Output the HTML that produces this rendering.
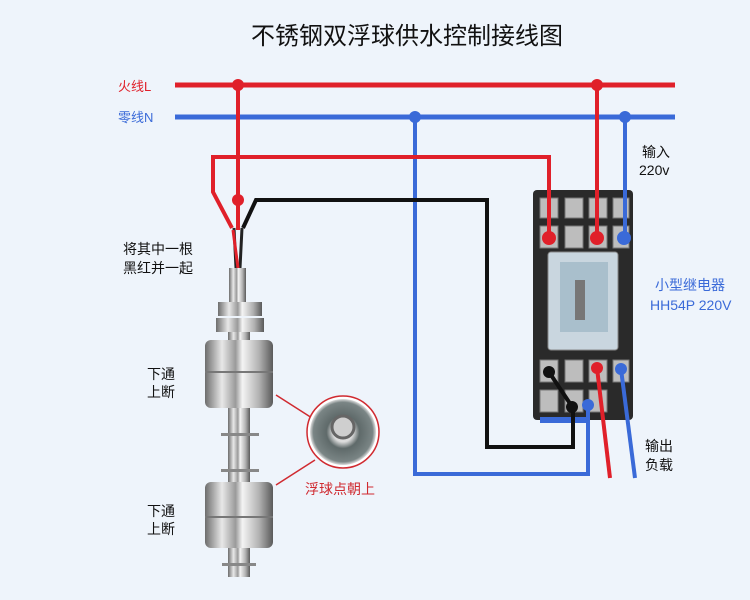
<!DOCTYPE html>
<html><head><meta charset="utf-8"><style>
body{margin:0;background:#eef4fb;}
svg{display:block;font-family:"Liberation Sans","Noto Sans CJK SC",sans-serif;}
</style></head><body>
<svg width="750" height="600" viewBox="0 0 750 600" xmlns="http://www.w3.org/2000/svg">
<defs>
<linearGradient id="steel" x1="0" x2="1" y1="0" y2="0">
<stop offset="0" stop-color="#6d6d6d"/><stop offset="0.25" stop-color="#e8e8e8"/><stop offset="0.45" stop-color="#9a9a9a"/><stop offset="0.55" stop-color="#f4f4f4"/><stop offset="0.8" stop-color="#b0b0b0"/><stop offset="1" stop-color="#5a5a5a"/>
</linearGradient>
<radialGradient id="disc"><stop offset="0.3" stop-color="#dcdcdc"/><stop offset="0.5" stop-color="#5f6a6a"/><stop offset="0.9" stop-color="#7a8585"/><stop offset="1" stop-color="#ddd"/></radialGradient>
</defs>
<rect width="750" height="600" fill="#eef4fb"/>
<text x="407" y="44" font-size="24" text-anchor="middle" fill="#111">不锈钢双浮球供水控制接线图</text>
<text x="118" y="91" font-size="13" fill="#e0202a">火线L</text>
<text x="118" y="122" font-size="13" fill="#3a6ad8">零线N</text>

<rect x="533" y="190" width="100" height="230" rx="4" fill="#2a2a2a"/>
<g fill="#bdbdbd" stroke="#777">
<rect x="540" y="198" width="18" height="20"/><rect x="565" y="198" width="18" height="20"/><rect x="589" y="198" width="18" height="20"/><rect x="613" y="198" width="16" height="20"/>
<rect x="540" y="226" width="18" height="22"/><rect x="565" y="226" width="18" height="22"/><rect x="589" y="226" width="18" height="22"/><rect x="613" y="226" width="16" height="22"/>
<rect x="540" y="360" width="18" height="22"/><rect x="565" y="360" width="18" height="22"/><rect x="589" y="360" width="18" height="22"/><rect x="613" y="360" width="16" height="22"/>
<rect x="540" y="390" width="18" height="22"/><rect x="565" y="390" width="18" height="22"/><rect x="589" y="390" width="18" height="22"/>
</g>
<rect x="548" y="252" width="70" height="98" rx="3" fill="#c9d6df" stroke="#888"/>
<rect x="560" y="262" width="48" height="70" fill="#a9bfcc"/>
<rect x="575" y="280" width="10" height="40" fill="#777"/>
<rect x="540" y="417" width="50" height="6" fill="#3a6ad8"/>

<g fill="none" stroke-width="4">
<path d="M175 85H675" stroke="#e0202a" stroke-width="5"/>
<path d="M175 117H675" stroke="#3a6ad8" stroke-width="5"/>
<path d="M238 85V230" stroke="#e0202a"/>
<path d="M597 85V237" stroke="#e0202a"/>
<path d="M625 117V237" stroke="#3a6ad8"/>
<path d="M415 117V474H588V405" stroke="#3a6ad8"/>
<path d="M232 228L213 192V157H549V237" stroke="#e0202a"/>
<path d="M243 228L256 200H487V447H573V408L549 372" stroke="#111"/>
<path d="M597 368L610 478" stroke="#e0202a"/>
<path d="M621 369L635 478" stroke="#3a6ad8"/>
</g>
<g>
<circle cx="238" cy="85" r="6" fill="#e0202a"/><circle cx="597" cy="85" r="6" fill="#e0202a"/>
<circle cx="415" cy="117" r="6" fill="#3a6ad8"/><circle cx="625" cy="117" r="6" fill="#3a6ad8"/>
<circle cx="238" cy="200" r="6" fill="#e0202a"/>
<circle cx="549" cy="238" r="7" fill="#e0202a"/><circle cx="597" cy="238" r="7" fill="#e0202a"/><circle cx="624" cy="238" r="7" fill="#3a6ad8"/>
<circle cx="549" cy="372" r="6" fill="#111"/><circle cx="572" cy="407" r="6" fill="#111"/>
<circle cx="597" cy="368" r="6" fill="#e0202a"/><circle cx="621" cy="369" r="6" fill="#3a6ad8"/>
<circle cx="588" cy="405" r="6" fill="#3a6ad8"/>
</g>

<path d="M234 228L236 268M242 228L240 268" stroke="#222" stroke-width="3"/>
<path d="M233 230L238 268" stroke="#e0202a" stroke-width="3"/>
<rect x="229" y="268" width="17" height="34" fill="url(#steel)"/>
<rect x="218" y="302" width="44" height="14" fill="url(#steel)"/>
<rect x="216" y="318" width="48" height="14" fill="url(#steel)"/>
<rect x="228" y="332" width="22" height="245" fill="url(#steel)"/>
<rect x="205" y="340" width="68" height="68" rx="6" fill="url(#steel)"/>
<path d="M205 372H273" stroke="#777" stroke-width="2"/>
<rect x="221" y="433" width="38" height="3" fill="#888"/><rect x="221" y="469" width="38" height="3" fill="#888"/>
<rect x="205" y="482" width="68" height="66" rx="6" fill="url(#steel)"/>
<path d="M205 517H273" stroke="#777" stroke-width="2"/>
<rect x="222" y="563" width="34" height="3" fill="#888"/>

<path d="M276 395L312 418M276 485L315 460" stroke="#d02a30" stroke-width="1.5"/>
<circle cx="343" cy="432" r="36" fill="#fff" stroke="#d02a30" stroke-width="1.5"/>
<circle cx="343" cy="432" r="33" fill="url(#disc)"/>
<circle cx="343" cy="427" r="11" fill="#cfcfcf" stroke="#666" stroke-width="3"/>

<g font-size="14" fill="#111">
<text x="123" y="254">将其中一根</text><text x="123" y="273">黑红并一起</text>
<text x="147" y="379">下通</text><text x="147" y="397">上断</text>
<text x="147" y="516">下通</text><text x="147" y="534">上断</text>
<text x="642" y="157">输入</text><text x="639" y="175">220v</text>
<text x="645" y="451">输出</text><text x="645" y="470">负载</text>
</g>
<text x="305" y="494" font-size="14" fill="#d02a30">浮球点朝上</text>
<text x="655" y="290" font-size="14" fill="#3a6ad8">小型继电器</text>
<text x="650" y="310" font-size="14" fill="#3a6ad8">HH54P 220V</text>
</svg>
</body></html>
